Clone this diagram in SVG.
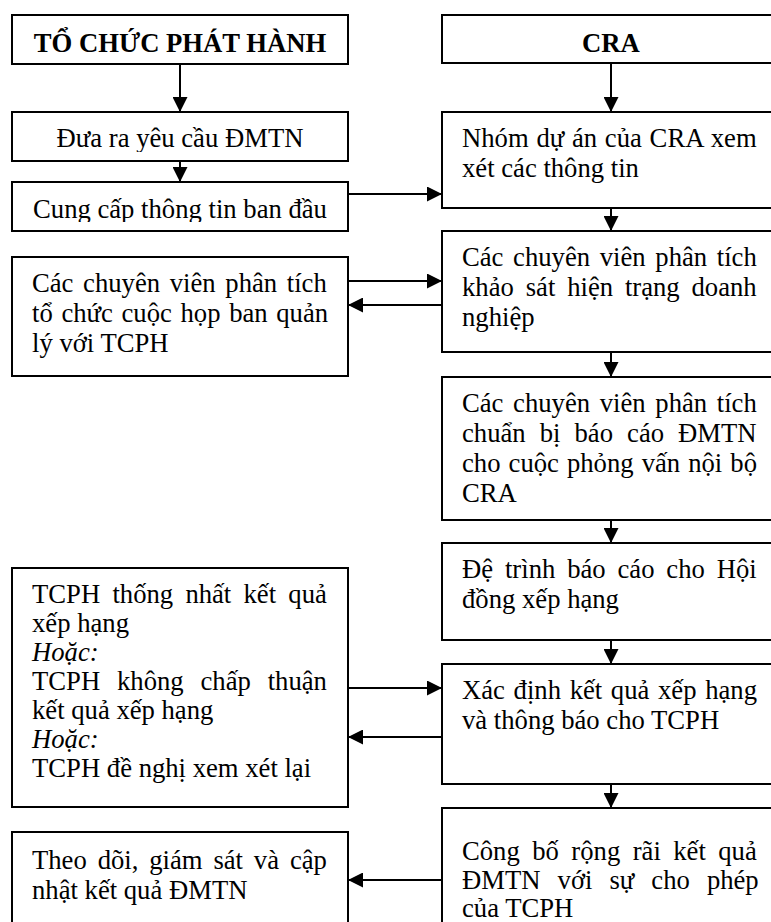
<svg xmlns="http://www.w3.org/2000/svg" width="771" height="922" viewBox="0 0 771 922">
<style>
.box{fill:#fff;stroke:#000;stroke-width:2}
.t{font-family:"Liberation Serif","Times New Roman",serif;font-size:26.67px;fill:#000}
.b{font-weight:bold}
.c{text-anchor:middle}
.i{font-style:italic}
.ln{stroke:#000;stroke-width:2;fill:none}
</style>
<defs>
<marker id="ah" markerUnits="userSpaceOnUse" markerWidth="15" markerHeight="15" refX="15" refY="7.5" orient="auto">
<path d="M0,0 L15,7.5 L0,15 z" fill="#000"/>
</marker>
<clipPath id="clipReq"><rect x="12" y="112" width="336" height="40"/></clipPath>
<clipPath id="clipInfo"><rect x="12" y="182" width="336" height="40"/></clipPath>
</defs>

<g id="connectors">
<line class="ln" x1="180" y1="64" x2="180" y2="112" marker-end="url(#ah)"/>
<line class="ln" x1="180" y1="161" x2="180" y2="182" marker-end="url(#ah)"/>
<line class="ln" x1="348" y1="194" x2="442" y2="194" marker-end="url(#ah)"/>
<line class="ln" x1="611" y1="63" x2="611" y2="112" marker-end="url(#ah)"/>
<line class="ln" x1="611" y1="208" x2="611" y2="231" marker-end="url(#ah)"/>
<line class="ln" x1="348" y1="281" x2="442" y2="281" marker-end="url(#ah)"/>
<line class="ln" x1="442" y1="305" x2="348" y2="305" marker-end="url(#ah)"/>
<line class="ln" x1="611" y1="352" x2="611" y2="377" marker-end="url(#ah)"/>
<line class="ln" x1="611" y1="520" x2="611" y2="543" marker-end="url(#ah)"/>
<line class="ln" x1="611" y1="640" x2="611" y2="664" marker-end="url(#ah)"/>
<line class="ln" x1="348" y1="688" x2="442" y2="688" marker-end="url(#ah)"/>
<line class="ln" x1="442" y1="737" x2="348" y2="737" marker-end="url(#ah)"/>
<line class="ln" x1="611" y1="784" x2="611" y2="808" marker-end="url(#ah)"/>
<line class="ln" x1="442" y1="880" x2="348" y2="880" marker-end="url(#ah)"/>
</g>

<g id="issuer-header">
<rect class="box" x="12" y="15" width="336" height="49"/>
<text class="t b c" x="180" y="52">TỔ CHỨC PHÁT HÀNH</text>
</g>
<g id="request">
<rect class="box" x="12" y="112" width="336" height="49"/>
<text class="t c" x="180" y="147" clip-path="url(#clipReq)">Đưa ra yêu cầu ĐMTN</text>
</g>
<g id="provide-info">
<rect class="box" x="12" y="182" width="336" height="49"/>
<text class="t c" x="180" y="218" clip-path="url(#clipInfo)">Cung cấp thông tin ban đầu</text>
</g>
<g id="management-meeting">
<rect class="box" x="12" y="257" width="336" height="119"/>
<text class="t" x="32" y="292" style="word-spacing:3px">Các chuyên viên phân tích</text>
<text class="t" x="32" y="322" style="word-spacing:2px">tổ chức cuộc họp ban quản</text>
<text class="t" x="32" y="352">lý với TCPH</text>
</g>
<g id="issuer-response">
<rect class="box" x="12" y="568" width="336" height="239"/>
<text class="t" x="32" y="603" style="word-spacing:5.6px">TCPH thống nhất kết quả</text>
<text class="t" x="32" y="632">xếp hạng</text>
<text class="t i" x="32" y="661">Hoặc:</text>
<text class="t" x="32" y="690" style="word-spacing:10.2px">TCPH không chấp thuận</text>
<text class="t" x="32" y="719">kết quả xếp hạng</text>
<text class="t i" x="32" y="748">Hoặc:</text>
<text class="t" x="32" y="777">TCPH đề nghị xem xét lại</text>
</g>
<g id="monitor">
<rect class="box" x="12" y="832" width="336" height="120"/>
<text class="t" x="32" y="869" style="word-spacing:4.2px">Theo dõi, giám sát và cập</text>
<text class="t" x="32" y="899">nhật kết quả ĐMTN</text>
</g>

<g id="cra-header">
<rect class="box" x="442" y="15" width="360" height="48"/>
<text class="t b c" x="611" y="52">CRA</text>
</g>
<g id="cra-review">
<rect class="box" x="442" y="112" width="360" height="96"/>
<text class="t" x="462" y="147" style="word-spacing:1.1px">Nhóm dự án của CRA xem</text>
<text class="t" x="462" y="177">xét các thông tin</text>
</g>
<g id="cra-survey">
<rect class="box" x="442" y="231" width="360" height="121"/>
<text class="t" x="462" y="266" style="word-spacing:3px">Các chuyên viên phân tích</text>
<text class="t" x="462" y="296" style="word-spacing:5.2px">khảo sát hiện trạng doanh</text>
<text class="t" x="462" y="326">nghiệp</text>
</g>
<g id="cra-prepare">
<rect class="box" x="442" y="377" width="360" height="143"/>
<text class="t" x="462" y="412" style="word-spacing:3px">Các chuyên viên phân tích</text>
<text class="t" x="462" y="442" style="word-spacing:7.4px">chuẩn bị báo cáo ĐMTN</text>
<text class="t" x="462" y="472" style="word-spacing:1.4px">cho cuộc phỏng vấn nội bộ</text>
<text class="t" x="462" y="502">CRA</text>
</g>
<g id="cra-submit">
<rect class="box" x="442" y="543" width="360" height="97"/>
<text class="t" x="462" y="578" style="word-spacing:5.2px">Đệ trình báo cáo cho Hội</text>
<text class="t" x="462" y="608">đồng xếp hạng</text>
</g>
<g id="cra-decide">
<rect class="box" x="442" y="664" width="360" height="120"/>
<text class="t" x="462" y="699" style="word-spacing:2px">Xác định kết quả xếp hạng</text>
<text class="t" x="462" y="729">và thông báo cho TCPH</text>
</g>
<g id="cra-publish">
<rect class="box" x="442" y="808" width="360" height="144"/>
<text class="t" x="462" y="860" style="word-spacing:5.8px">Công bố rộng rãi kết quả</text>
<text class="t" x="462" y="889" style="word-spacing:10.4px">ĐMTN với sự cho phép</text>
<text class="t" x="462" y="917">của TCPH</text>
</g>
</svg>
